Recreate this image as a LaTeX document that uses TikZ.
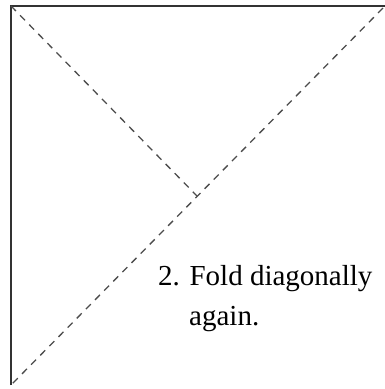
\documentclass[tikz,border=0pt]{standalone}
\usepackage{fontspec}
\setmainfont{Liberation Serif}

\begin{document}
\begin{tikzpicture}[x=1pt,y=-1pt,
  edge/.style={line width=1.6pt,black!80},
  fold/.style={line width=1.3pt,black!70,dash pattern=on 7pt off 6pt}]
  \useasboundingbox (0,0) rectangle (385,389);
  \coordinate (tl) at (11,6);
  \coordinate (tr) at (385,6);
  \coordinate (bl) at (11,385);
  \coordinate (mid) at (197,196);
  \draw[edge] (bl) -- (tl) -- (tr);
  \draw[fold] (383,8) -- (12,384);
  \draw[fold] (tl) -- (mid);
  \node[anchor=base west,font=\fontsize{29}{40}\selectfont,align=left,inner sep=0pt]
    (step) at (158,325) {2. Fold diagonally\\\hspace*{31pt}again.};
\end{tikzpicture}
\end{document}
